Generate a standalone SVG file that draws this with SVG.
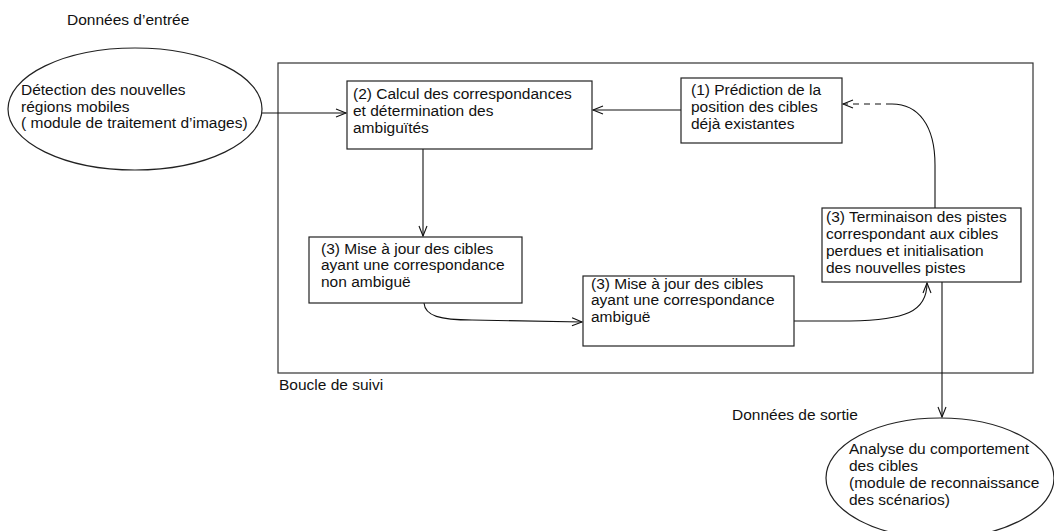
<svg xmlns="http://www.w3.org/2000/svg" width="1054" height="531" viewBox="0 0 1054 531">
  <style>
    text { font-family: "Liberation Sans", Arial, sans-serif; font-size: 15.5px; fill: #111; }
    .shape { fill: #fff; stroke: #222; stroke-width: 1.2; }
    .frame { fill: none; stroke: #333; stroke-width: 1.2; }
    .link { fill: none; stroke: #111; stroke-width: 1.1; }
    .dash { stroke-dasharray: 6 5; }
  </style>
  <defs>
    <marker id="open-arrow" markerUnits="userSpaceOnUse" markerWidth="14" markerHeight="12" refX="11" refY="5" orient="auto">
      <path d="M1,1 L11,5 L1,9" fill="none" stroke="#111" stroke-width="1.1"/>
    </marker>
  </defs>

  <rect fill="#fff" x="0" y="0" width="1054" height="531"/>

  <!-- tracking loop frame -->
  <g id="loop-frame">
    <rect class="frame" x="278" y="63" width="755" height="310"/>
    <text x="279" y="390">Boucle de suivi</text>
  </g>

  <text id="label-input" x="67" y="25">Données d’entrée</text>
  <text id="label-output" x="732" y="420">Données de sortie</text>

  <!-- connectors -->
  <g id="connectors">
    <line class="link" x1="262" y1="113" x2="346" y2="113" marker-end="url(#open-arrow)"/>
    <line class="link" x1="681" y1="110" x2="593" y2="110" marker-end="url(#open-arrow)"/>
    <line class="link" x1="423" y1="149" x2="423" y2="236" marker-end="url(#open-arrow)"/>
    <path class="link" d="M424,303 C425,316 440,320 472,320 L582,322" marker-end="url(#open-arrow)"/>
    <path class="link" d="M794,321 L850,321 C905,320 927,312 927,283" marker-end="url(#open-arrow)"/>
    <path class="link" d="M935,208 L935,165 C935,125 918,104 892,104"/>
    <line class="link dash" x1="892" y1="104" x2="843" y2="104" marker-end="url(#open-arrow)"/>
    <line class="link" x1="942" y1="282" x2="942" y2="417" marker-end="url(#open-arrow)"/>
  </g>

  <g id="node-detection">
    <ellipse class="shape" cx="135" cy="109" rx="127" ry="61"/>
    <text x="21" y="95">Détection des nouvelles</text>
    <text x="21" y="111.5">régions mobiles</text>
    <text x="21" y="128">( module de traitement d’images)</text>
  </g>

  <g id="node-correspondances">
    <rect class="shape" x="347" y="81" width="245" height="68"/>
    <text x="353" y="99">(2) Calcul des correspondances</text>
    <text x="353" y="116">et détermination des</text>
    <text x="353" y="133">ambiguïtés</text>
  </g>

  <g id="node-prediction">
    <rect class="shape" x="681" y="78" width="161" height="65"/>
    <text x="691" y="95">(1) Prédiction de la</text>
    <text x="691" y="112">position des cibles</text>
    <text x="691" y="128.5">déjà existantes</text>
  </g>

  <g id="node-non-ambigue">
    <rect class="shape" x="309" y="237" width="213" height="66"/>
    <text x="321" y="253.5">(3) Mise à jour des cibles</text>
    <text x="321" y="270">ayant une correspondance</text>
    <text x="321" y="287">non ambiguë</text>
  </g>

  <g id="node-ambigue">
    <rect class="shape" x="583" y="276" width="211" height="70"/>
    <text x="591" y="288.5">(3) Mise à jour des cibles</text>
    <text x="591" y="305">ayant une correspondance</text>
    <text x="591" y="322">ambiguë</text>
  </g>

  <g id="node-terminaison">
    <rect class="shape" x="822" y="208" width="199" height="74"/>
    <text x="826" y="222">(3) Terminaison des pistes</text>
    <text x="826" y="239">correspondant aux cibles</text>
    <text x="826" y="256">perdues et initialisation</text>
    <text x="826" y="272.5">des nouvelles pistes</text>
  </g>

  <g id="node-analyse">
    <ellipse class="shape" cx="940" cy="478" rx="114" ry="60"/>
    <text x="849" y="454">Analyse du comportement</text>
    <text x="849" y="471">des cibles</text>
    <text x="849" y="488">(module de reconnaissance</text>
    <text x="849" y="505">des scénarios)</text>
  </g>
</svg>
